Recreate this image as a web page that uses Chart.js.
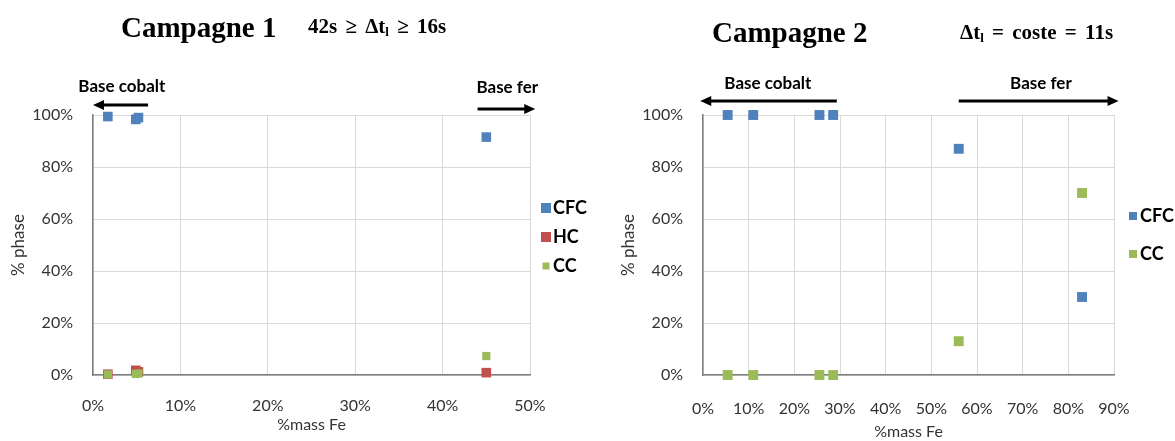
<!DOCTYPE html>
<html>
<head>
<meta charset="utf-8">
<script src="https://cdn.jsdelivr.net/npm/chart.js@4.4.1/dist/chart.umd.min.js"></script>
<style>
  body { margin: 0; background: #fff; width: 1175px; height: 441px; overflow: hidden; position: relative; }
  .box { position: absolute; top: 0; height: 441px; }
  .title { position: absolute; font-family: "Liberation Serif", "DejaVu Serif", serif; font-weight: bold; color: #000; white-space: nowrap; line-height: 1; }
  .title sub { font-size: 13px; vertical-align: -3px; }
  .sub { font-size: 21px; word-spacing: 3px; }
</style>
</head>
<body>
<div class="box" style="left:0;width:600px"><canvas id="c1" width="600" height="441"></canvas></div>
<div class="box" style="left:600px;width:575px"><canvas id="c2" width="575" height="441"></canvas></div>
<div class="title" style="left:121px;top:13px;font-size:29px">Campagne 1</div>
<div class="title sub" style="left:308px;top:16px">42s ≥ Δt<sub>l</sub> ≥ 16s</div>
<div class="title" style="left:712px;top:18px;font-size:29px">Campagne 2</div>
<div class="title sub" style="left:960px;top:22px">Δt<sub>l</sub> = coste = 11s</div>
<script>
// Campagne 1
const fe1 = [1.7, 4.9, 5.2, 45];
const cfc1 = [99.4, 98.3, 99.0, 91.5];
const hc1 = [0.3, 1.8, 1.2, 0.9];
const cc1 = [0.2, 0.4, 0.6, 7.3];

// Campagne 2
const fe2 = [5.4, 11, 25.5, 28.5, 56, 83];
const cfc2 = [100, 100, 100, 100, 87, 30];
const cc2 = [0, 0, 0, 0, 13, 70];

const BLUE = '#4f81bd', RED = '#c0504d', GREEN = '#9bbb59';

function pts(xs, ys) {
    return xs.map((x, i) => ({ x: x, y: ys[i] }));
}

// legende a droite + fleches "Base cobalt / Base fer"
const sideNotes = {
    id: 'sideNotes',
    afterDraw(chart, args, opts) {
        const { ctx, chartArea, scales } = chart;
        ctx.save();
        const lg = opts.legend;
        ctx.textBaseline = 'middle';
        chart.data.datasets.forEach((ds, i) => {
            const y = lg.y + i * lg.dy;
            const s = lg.boxes[i];
            ctx.fillStyle = ds.backgroundColor;
            ctx.fillRect(lg.x - s / 2, y - s / 2, s, s);
            ctx.fillStyle = '#000';
            ctx.font = 'bold 18px Lato';
            ctx.textAlign = 'left';
            ctx.fillText(ds.label, lg.x + lg.gap, y);
        });
        ctx.font = 'bold 17px Lato';
        ctx.textAlign = 'center';
        opts.notes.forEach(n => {
            ctx.fillStyle = '#000';
            ctx.fillText(n.text, scales.x.getPixelForValue(n.at), chartArea.top - n.rise);
            const x1 = scales.x.getPixelForValue(n.from);
            const x2 = scales.x.getPixelForValue(n.to);
            const y = chartArea.top - n.arrowRise;
            const dir = x2 > x1 ? 1 : -1;
            ctx.strokeStyle = '#000';
            ctx.lineWidth = 3;
            ctx.beginPath();
            ctx.moveTo(x1, y);
            ctx.lineTo(x2 - dir * 8, y);
            ctx.stroke();
            ctx.beginPath();
            ctx.moveTo(x2, y);
            ctx.lineTo(x2 - dir * 11, y - 5);
            ctx.lineTo(x2 - dir * 11, y + 5);
            ctx.closePath();
            ctx.fill();
        });
        ctx.restore();
    }
};

function makeOptions(xMax, padLeft, padRight, yWidth, xTickPad, xTitlePad, extra) {
    return {
        responsive: false,
        devicePixelRatio: 1,
        animation: false,
        events: [],
        layout: { padding: { left: padLeft, right: padRight, top: 115, bottom: 0 } },
        plugins: {
            legend: { display: false },
            tooltip: { enabled: false },
            sideNotes: extra
        },
        scales: {
            x: {
                type: 'linear',
                min: 0, max: xMax,
                afterFit: s => { s.height = 66; },
                grid: { color: '#d9d9d9', lineWidth: 1, drawTicks: false },
                border: { color: '#7f7f7f', width: 1.5 },
                ticks: {
                    stepSize: 10, padding: xTickPad, color: '#333',
                    font: { family: 'Lato', size: 16 },
                    callback: v => v + '%'
                },
                title: {
                    display: true, text: '%mass Fe', color: '#333',
                    font: { family: 'Lato', size: 16 },
                    padding: { top: 0, bottom: xTitlePad }
                }
            },
            y: {
                min: 0, max: 100,
                afterFit: s => { s.width = yWidth; },
                grid: { color: '#d9d9d9', lineWidth: 1, drawTicks: false },
                border: { color: '#7f7f7f', width: 1.5 },
                ticks: {
                    stepSize: 20, padding: 20, color: '#333',
                    font: { family: 'Lato', size: 16 },
                    callback: v => v + '%'
                },
                title: {
                    display: true, text: '% phase', color: '#333',
                    font: { family: 'Lato', size: 17 },
                    padding: { top: 4, bottom: 0 }
                }
            }
        }
    };
}

new Chart(document.getElementById('c1'), {
    type: 'scatter',
    data: {
        datasets: [
            { label: 'CFC', data: pts(fe1, cfc1), backgroundColor: BLUE, borderWidth: 0, pointStyle: 'rect', pointRadius: 6.8, clip: false, order: 2 },
            { label: 'HC', data: pts(fe1, hc1), backgroundColor: RED, borderWidth: 0, pointStyle: 'rect', pointRadius: 6.8, clip: false, order: 1 },
            { label: 'CC', data: pts(fe1, cc1), backgroundColor: GREEN, borderWidth: 0, pointStyle: 'rect', pointRadius: 5.8, clip: false, order: 0 }
        ]
    },
    options: makeOptions(50, 4, 70, 89, 21, 7, {
        legend: { x: 546, y: 208, dy: 29, gap: 7, boxes: [10, 10, 7] },
        notes: [
            { text: 'Base cobalt', at: 3.3, rise: 28, from: 6.3, to: 0, arrowRise: 10 },
            { text: 'Base fer', at: 47.4, rise: 27, from: 44, to: 50.6, arrowRise: 6 }
        ]
    }),
    plugins: [sideNotes]
});

new Chart(document.getElementById('c2'), {
    type: 'scatter',
    data: {
        datasets: [
            { label: 'CFC', data: pts(fe2, cfc2), backgroundColor: BLUE, borderWidth: 0, pointStyle: 'rect', pointRadius: 7, clip: false, order: 1 },
            { label: 'CC', data: pts(fe2, cc2), backgroundColor: GREEN, borderWidth: 0, pointStyle: 'rect', pointRadius: 7, clip: false, order: 0 }
        ]
    },
    options: makeOptions(90, 14, 61, 89, 24, 0, {
        legend: { x: 533, y: 216, dy: 38, gap: 7, boxes: [8, 8] },
        notes: [
            { text: 'Base cobalt', at: 14.2, rise: 31, from: 29.3, to: -0.6, arrowRise: 14 },
            { text: 'Base fer', at: 74, rise: 31, from: 56, to: 91, arrowRise: 14 }
        ]
    }),
    plugins: [sideNotes]
});
</script>
</body>
</html>
